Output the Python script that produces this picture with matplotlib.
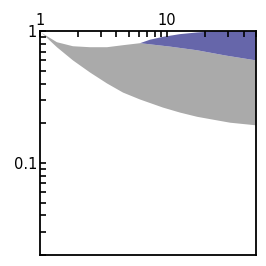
import numpy as np
import matplotlib
matplotlib.use("Agg")
import matplotlib.pyplot as plt

# gray band: lower boundary
gray_lo_x = [1, 1.056, 1.361, 1.819, 2.476, 3.371, 4.504, 6.13, 9.30, 12.66,
             17.23, 23.03, 31.34, 50]
gray_lo_y = [1.0, 0.949, 0.755, 0.600, 0.486, 0.401, 0.342, 0.303, 0.263,
             0.241, 0.224, 0.213, 0.202, 0.193]

# gray band: upper boundary (before the blue band starts)
gray_hi_x = [1, 1.056, 1.361, 1.819, 2.476, 3.371, 4.504, 6.13]
gray_hi_y = [1.0, 0.957, 0.824, 0.768, 0.755, 0.755, 0.782, 0.810]

# blue band boundaries
blue_lo_x = [6.13, 10.56, 17.2, 29.15, 50]
blue_lo_y = [0.810, 0.763, 0.716, 0.652, 0.600]
blue_hi_x = [6.13, 7.35, 9.30, 12.66, 17.23, 23.03, 50]
blue_hi_y = [0.810, 0.861, 0.905, 0.949, 0.977, 0.996, 1.0]


def main():
    fig = plt.figure(figsize=(2.66, 2.66), dpi=100)
    ax = fig.add_axes([0.150, 0.041, 0.812, 0.842])

    # gray polygon: lower curve out, upper curve (gap edge + blue lower) back
    up_x = gray_hi_x + blue_lo_x[1:]
    up_y = gray_hi_y + blue_lo_y[1:]
    ax.fill(list(gray_lo_x) + up_x[::-1], list(gray_lo_y) + up_y[::-1],
            color="#aaaaaa", lw=0)

    # blue polygon: lower edge out, upper edge back
    ax.fill(blue_lo_x + blue_hi_x[::-1], blue_lo_y + blue_hi_y[::-1],
            color="#6666aa", lw=0)

    ax.set_xscale("log")
    ax.set_yscale("log")
    ax.set_xlim(1, 50)
    ax.set_ylim(0.02, 1)

    ax.xaxis.set_ticks_position("top")
    ax.yaxis.set_ticks_position("left")
    ax.set_xticks([1, 10])
    ax.set_xticklabels(["1", "10"])
    ax.set_yticks([0.1, 1])
    ax.set_yticklabels(["0.1", "1"])
    ax.minorticks_on()
    ax.tick_params(which="both", direction="in", width=1.2, length=4.5,
                   labelsize=10.5, pad=2)
    for s in ax.spines.values():
        s.set_linewidth(1.3)

    fig.savefig("out.png", dpi=100)
    plt.close(fig)


if __name__ == "__main__":
    main()
